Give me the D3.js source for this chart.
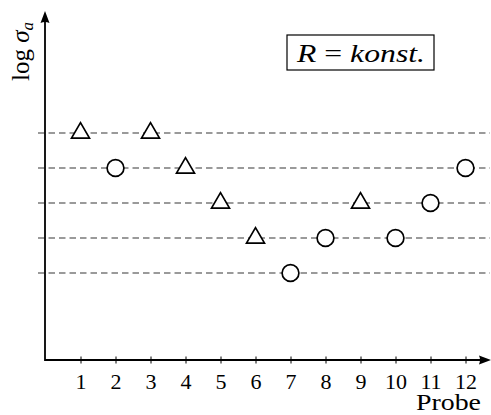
<!DOCTYPE html>
<html>
<head>
<meta charset="utf-8">
<script src="https://cdn.jsdelivr.net/npm/d3@7"></script>
<style>
    body { margin: 0; background: #fff; }
    svg { display: block; }
</style>
</head>
<body>
<div id="chart"></div>
<script>

// data
const probes = [1, 2, 3, 4, 5, 6, 7, 8, 9, 10, 11, 12];
const levels = [5, 4, 5, 4, 3, 2, 1, 2, 3, 2, 3, 4];
const outcomes = ["break", "runout", "break", "break", "break", "break",
    "runout", "runout", "break", "runout", "runout", "runout"];
const levelLines = [1, 2, 3, 4, 5];
const xTitle = "Probe";

const width = 491, height = 415;
const font = "'Liberation Serif', 'Times New Roman', serif";

const svg = d3.select("#chart").append("svg")
    .attr("width", width)
    .attr("height", height);

// axis frame
const x0 = 45, y0 = 360, yTop = 11, xRight = 490;

const x = d3.scaleLinear().domain([0, 12]).range([45.5, 465.5]);
const y = d3.scaleLinear().domain([1, 5]).range([273, 133]);

// dashed level lines
svg.append("g")
    .selectAll("line")
    .data(levelLines)
    .join("line")
    .attr("x1", 38)
    .attr("x2", xRight)
    .attr("y1", d => y(d))
    .attr("y2", d => y(d))
    .attr("stroke", "#7a7a7a")
    .attr("stroke-width", 1.4)
    .attr("stroke-dasharray", "6.5,4");

// x axis ticks + labels
const xAxis = svg.append("g")
    .attr("transform", `translate(0,${y0})`)
    .call(d3.axisBottom(x).tickValues(probes).tickSize(4));

xAxis.select(".domain").remove();
xAxis.selectAll(".tick line")
    .attr("y1", -3.5)
    .attr("y2", 3.5)
    .attr("stroke", "#000")
    .attr("stroke-width", 1);
xAxis.selectAll(".tick text")
    .attr("y", 28.5)
    .attr("dy", 0)
    .attr("fill", "#000")
    .attr("font-family", font)
    .attr("font-size", 22);

// axis lines
svg.append("path")
    .attr("d", `M${x0},${yTop + 8} V${y0} H${xRight - 8}`)
    .attr("fill", "none")
    .attr("stroke", "#000")
    .attr("stroke-width", 1.8);

// arrow heads
svg.append("path")
    .attr("d", `M${x0},${yTop} L${x0 + 4.5},${yTop + 12} Q${x0},${yTop + 10} ${x0 - 4.5},${yTop + 12} Z`)
    .attr("fill", "#000");
svg.append("path")
    .attr("d", `M${xRight + 1},${y0} L${xRight - 11},${y0 - 4.5} Q${xRight - 9},${y0} ${xRight - 11},${y0 + 4.5} Z`)
    .attr("fill", "#000");

// markers
const symTri = d3.symbol(d3.symbolTriangle, 140);
const symCirc = d3.symbol(d3.symbolCircle, Math.PI * 8.4 * 8.4);

svg.append("g")
    .selectAll("path")
    .data(probes.map((p, i) => ({probe: p, level: levels[i], outcome: outcomes[i]})))
    .join("path")
    .attr("transform", d => `translate(${x(d.probe)},${y(d.level)})`)
    .attr("d", d => d.outcome === "break" ? symTri() : symCirc())
    .attr("fill", "#fff")
    .attr("stroke", "#000")
    .attr("stroke-width", 1.7);

// x title
svg.append("text")
    .attr("x", 481)
    .attr("y", 410)
    .attr("text-anchor", "end")
    .attr("font-family", font)
    .attr("font-size", 23)
    .attr("textLength", 65)
    .attr("lengthAdjust", "spacingAndGlyphs")
    .text(xTitle);

// y title, rotated
const yTitle = svg.append("text")
    .attr("transform", "translate(29,81) rotate(-90)")
    .attr("font-family", font)
    .attr("font-size", 25);
yTitle.append("tspan").text("log ");
yTitle.append("tspan").attr("font-style", "italic").text("σ");
yTitle.append("tspan").attr("font-style", "italic").attr("font-size", 17).attr("dy", 4).text("a");

// box label
svg.append("rect")
    .attr("x", 287)
    .attr("y", 35)
    .attr("width", 147)
    .attr("height", 35)
    .attr("fill", "none")
    .attr("stroke", "#000")
    .attr("stroke-width", 1.2);

const boxText = svg.append("text")
    .attr("x", 297)
    .attr("y", 62)
    .attr("font-family", font)
    .attr("font-size", 25)
    .attr("textLength", 128)
    .attr("lengthAdjust", "spacingAndGlyphs");
boxText.append("tspan").attr("font-style", "italic").text("R");
boxText.append("tspan").text(" = ");
boxText.append("tspan").attr("font-style", "italic").text("konst.");

</script>
</body>
</html>
